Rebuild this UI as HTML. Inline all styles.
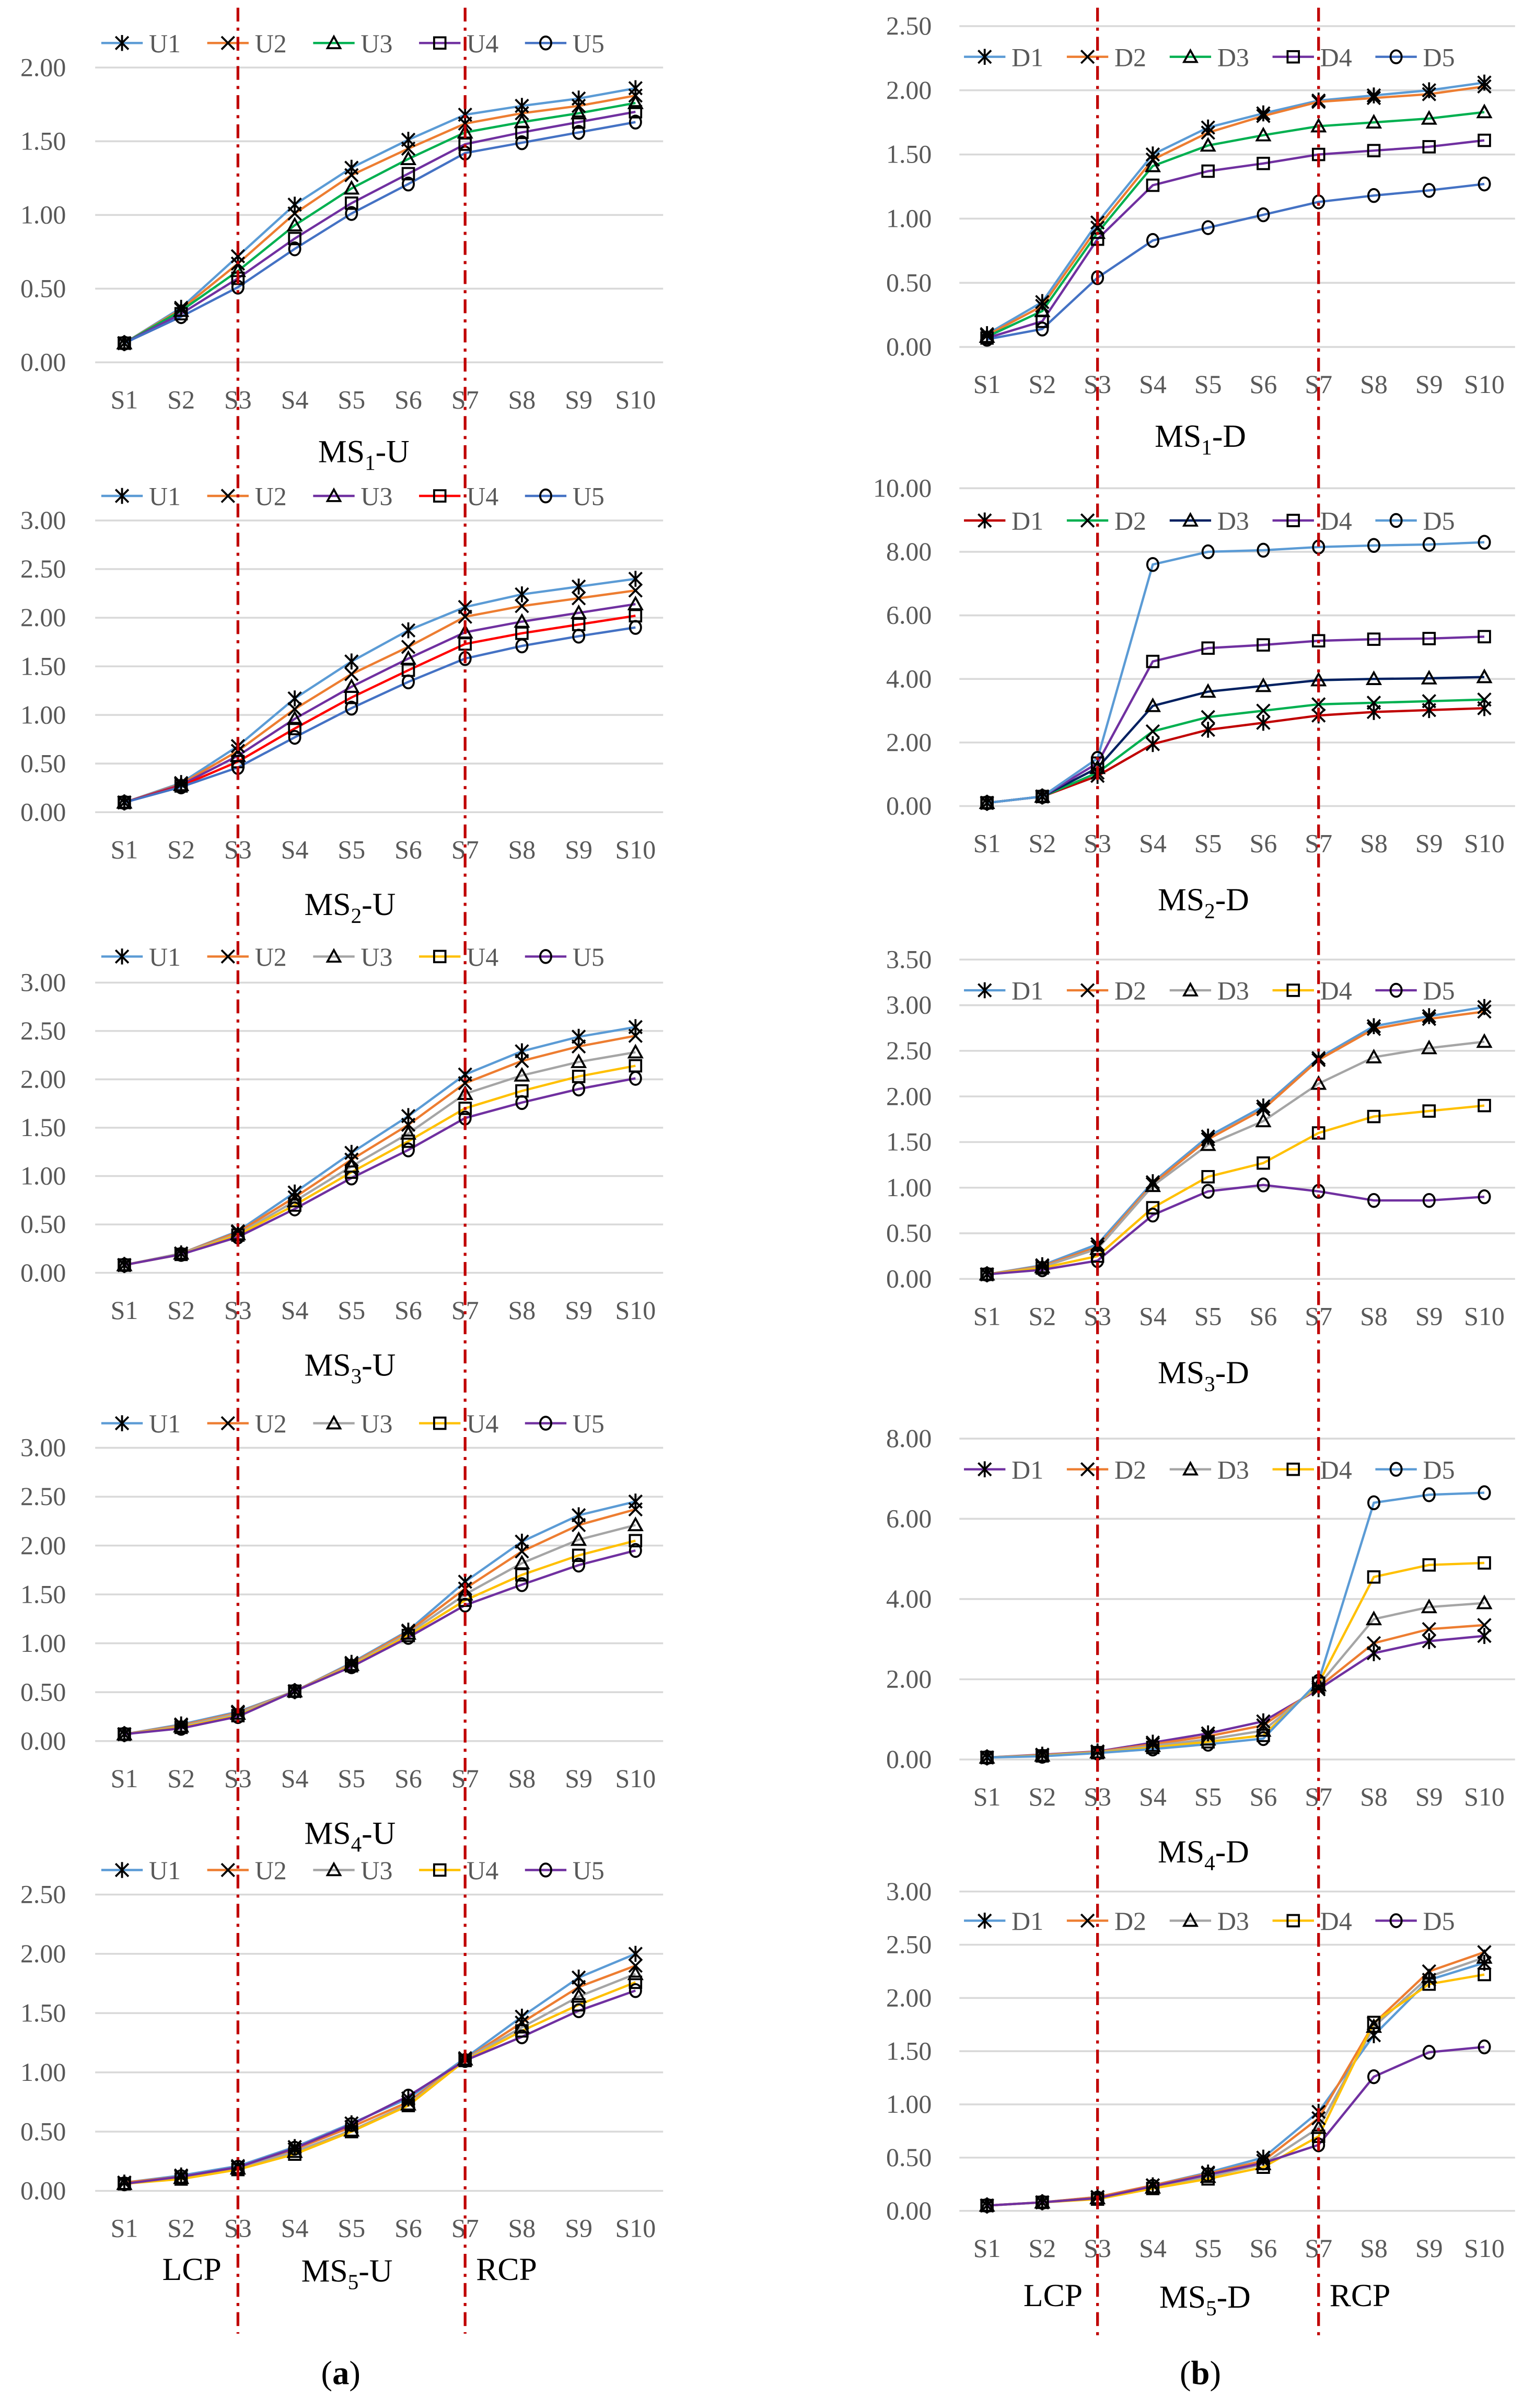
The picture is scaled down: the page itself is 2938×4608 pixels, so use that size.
<!DOCTYPE html>
<html><head><meta charset="utf-8"><style>
html,body{margin:0;padding:0;background:#fff;}
svg{display:block;}
text{font-family:"Liberation Serif",serif;}
</style></head><body>
<svg id="fig" xmlns="http://www.w3.org/2000/svg" width="2938" height="4608" viewBox="0 0 1000 1568.4"></svg>
<script>
const categories=["S1","S2","S3","S4","S5","S6","S7","S8","S9","S10"];
// Left column (a)
const ms1U=[[.13,.37,.72,1.07,1.32,1.51,1.68,1.74,1.79,1.86],[.13,.36,.67,1.01,1.27,1.45,1.62,1.69,1.74,1.81],[.13,.35,.62,.93,1.18,1.38,1.56,1.63,1.69,1.76],[.13,.33,.57,.84,1.08,1.28,1.48,1.56,1.63,1.70],[.13,.31,.51,.77,1.01,1.21,1.42,1.49,1.56,1.63]];
const ms2U=[[.1,.3,.68,1.17,1.55,1.87,2.11,2.24,2.32,2.40],[.1,.29,.63,1.06,1.42,1.70,2.01,2.12,2.20,2.28],[.1,.28,.58,.96,1.29,1.58,1.85,1.96,2.05,2.14],[.1,.27,.52,.86,1.18,1.46,1.73,1.84,1.93,2.02],[.1,.26,.46,.77,1.07,1.34,1.58,1.71,1.81,1.90]];
const ms3U=[[.08,.2,.43,.83,1.24,1.62,2.05,2.29,2.44,2.54],[.08,.2,.42,.78,1.17,1.53,1.96,2.19,2.34,2.45],[.08,.2,.40,.74,1.10,1.44,1.85,2.04,2.18,2.28],[.08,.19,.39,.70,1.04,1.36,1.70,1.88,2.03,2.14],[.08,.19,.37,.66,.98,1.27,1.60,1.76,1.90,2.01]];
const ms4U=[[.07,.17,.30,.51,.80,1.13,1.63,2.04,2.31,2.45],[.07,.16,.29,.51,.79,1.12,1.56,1.94,2.21,2.37],[.07,.15,.28,.51,.78,1.10,1.50,1.82,2.06,2.21],[.07,.14,.26,.51,.77,1.08,1.44,1.70,1.90,2.05],[.07,.13,.25,.51,.76,1.06,1.39,1.60,1.80,1.95]];
const ms5U=[[.07,.13,.21,.37,.57,.78,1.12,1.47,1.80,2.00],[.07,.12,.20,.35,.54,.75,1.11,1.42,1.72,1.90],[.06,.11,.19,.33,.51,.73,1.11,1.38,1.64,1.83],[.06,.10,.18,.31,.50,.72,1.10,1.35,1.57,1.76],[.06,.12,.20,.36,.56,.80,1.10,1.30,1.52,1.69]];
// Right column (b)
const ms1D=[[.1,.35,.97,1.5,1.71,1.82,1.92,1.96,2.0,2.06],[.09,.32,.93,1.46,1.67,1.80,1.91,1.94,1.97,2.03],[.08,.28,.89,1.41,1.57,1.65,1.72,1.75,1.78,1.83],[.07,.2,.84,1.26,1.37,1.43,1.50,1.53,1.56,1.61],[.06,.14,.54,.83,.93,1.03,1.13,1.18,1.22,1.27]];
const ms2D=[[.1,.3,.95,1.95,2.4,2.62,2.85,2.96,3.02,3.08],[.1,.3,1.05,2.35,2.8,3.0,3.2,3.25,3.3,3.35],[.1,.3,1.2,3.15,3.6,3.78,3.96,4.0,4.02,4.06],[.1,.3,1.35,4.55,4.97,5.07,5.2,5.25,5.27,5.33],[.1,.3,1.5,7.6,8.0,8.05,8.15,8.2,8.23,8.3]];
const ms3D=[[.05,.15,.38,1.06,1.56,1.89,2.42,2.77,2.88,2.98],[.05,.14,.35,1.04,1.53,1.86,2.4,2.74,2.85,2.93],[.05,.13,.33,1.02,1.47,1.73,2.14,2.43,2.53,2.60],[.05,.12,.25,.78,1.12,1.27,1.60,1.78,1.84,1.90],[.05,.10,.20,.70,.96,1.03,.96,.86,.86,.90]];
const ms4D=[[.05,.12,.2,.42,.65,.95,1.75,2.65,2.95,3.08],[.05,.11,.19,.38,.58,.85,1.8,2.9,3.25,3.35],[.05,.10,.18,.34,.50,.72,1.85,3.5,3.8,3.9],[.05,.09,.17,.30,.44,.60,1.9,4.55,4.85,4.9],[.05,.08,.16,.26,.38,.52,1.95,6.4,6.6,6.65]];
const ms5D=[[.05,.08,.13,.24,.36,.50,.93,1.65,2.17,2.33],[.05,.08,.13,.24,.35,.47,.87,1.76,2.25,2.43],[.05,.08,.12,.22,.32,.44,.78,1.73,2.2,2.38],[.05,.08,.11,.21,.30,.41,.70,1.77,2.13,2.22],[.05,.08,.12,.23,.34,.45,.62,1.26,1.49,1.54]];
const uNames=["U1","U2","U3","U4","U5"];
const dNames=["D1","D2","D3","D4","D5"];
const tickMax=[2,3,3,3,2.5,2.5,10,3.5,8,3];
const tickStep=[.5,.5,.5,.5,.5,.5,2,.5,2,.5];

const B="#5B9BD5",O="#ED7D31",G="#A5A5A5",Y="#FFC000",P="#7030A0";
const NS="http://www.w3.org/2000/svg";
const svg=document.getElementById('fig');
function el(t,a,p){const e=document.createElementNS(NS,t);for(const k in a)e.setAttribute(k,a[k]);(p||svg).appendChild(e);return e;}

function marker(g,type,x,y){
  const s=4.2,st={fill:"none",stroke:"#000","stroke-width":1.3};
  if(type===0){el('path',Object.assign({d:`M${x-s} ${y-s}L${x+s} ${y+s}M${x-s} ${y+s}L${x+s} ${y-s}M${x} ${y-s-1}L${x} ${y+s+1}`},st),g);}
  else if(type===1){el('path',Object.assign({d:`M${x-s} ${y-s}L${x+s} ${y+s}M${x-s} ${y+s}L${x+s} ${y-s}`},st),g);}
  else if(type===2){el('path',Object.assign({d:`M${x} ${y-s}L${x+s} ${y+s*0.8}L${x-s} ${y+s*0.8}Z`},st),g);}
  else if(type===3){el('rect',Object.assign({x:x-s+0.5,y:y-s+0.5,width:2*s-1,height:2*s-1},st),g);}
  else {el('ellipse',Object.assign({cx:x,cy:y,rx:s-0.6,ry:s},st),g);}
}

const charts=[
 {name:"ms1-u-chart",data:ms1U,names:uNames,colors:[B,O,"#00B050",P,"#4472C4"],x1:81,dx:37,y0:236,yTop:44,legY:28,legX:66,legDx:69,labY:260,side:'L'},
 {name:"ms2-u-chart",data:ms2U,names:uNames,colors:[B,O,P,"#FF0000","#4472C4"],x1:81,dx:37,y0:529,yTop:339,legY:323,legX:66,legDx:69,labY:553,side:'L'},
 {name:"ms3-u-chart",data:ms3U,names:uNames,colors:[B,O,G,Y,P],x1:81,dx:37,y0:829,yTop:640,legY:623,legX:66,legDx:69,labY:853,side:'L'},
 {name:"ms4-u-chart",data:ms4U,names:uNames,colors:[B,O,G,Y,P],x1:81,dx:37,y0:1134,yTop:943,legY:927,legX:66,legDx:69,labY:1158,side:'L'},
 {name:"ms5-u-chart",data:ms5U,names:uNames,colors:[B,O,G,Y,P],x1:81,dx:37,y0:1427,yTop:1234,legY:1218,legX:66,legDx:69,labY:1451,side:'L'},
 {name:"ms1-d-chart",data:ms1D,names:dNames,colors:[B,O,"#00B050",P,"#4472C4"],x1:643,dx:36,y0:226,yTop:17,legY:37,legX:628,legDx:67,labY:250,side:'R'},
 {name:"ms2-d-chart",data:ms2D,names:dNames,colors:["#C00000","#00B050","#002060",P,B],x1:643,dx:36,y0:525,yTop:318,legY:339,legX:628,legDx:67,labY:549,side:'R'},
 {name:"ms3-d-chart",data:ms3D,names:dNames,colors:[B,O,G,Y,P],x1:643,dx:36,y0:833,yTop:625,legY:645,legX:628,legDx:67,labY:857,side:'R'},
 {name:"ms4-d-chart",data:ms4D,names:dNames,colors:[P,O,G,Y,B],x1:643,dx:36,y0:1146,yTop:937,legY:957,legX:628,legDx:67,labY:1170,side:'R'},
 {name:"ms5-d-chart",data:ms5D,names:dNames,colors:[B,O,G,Y,P],x1:643,dx:36,y0:1440,yTop:1232,legY:1251,legX:628,legDx:67,labY:1464,side:'R'}
];

charts.forEach((c,ci)=>{
  const g=el('g',{});
  
  
  const max=tickMax[ci],step=tickStep[ci];
  const yS=v=>c.y0-(v/max)*(c.y0-c.yTop);
  const xS=i=>c.x1+i*c.dx;
  const gl=c.side==='L'?62:625, gr=c.side==='L'?432:987, tx=c.side==='L'?43:607;
  const dec=max>=10?2:2;
  for(let v=0;v<=max+1e-9;v+=step){
    const gline=el('line',{x1:gl,x2:gr,y1:yS(v),y2:yS(v),stroke:"#D9D9D9","stroke-width":1.2},g);
    
    
    const t=el('text',{x:tx,y:yS(v)+5.5,"text-anchor":"end","font-size":17,fill:"#595959"},g);
    t.textContent=v.toFixed(dec);
    
    
  }
  categories.forEach((cat,i)=>{
    const t=el('text',{x:xS(i),y:c.labY+6,"text-anchor":"middle","font-size":17,fill:"#595959"},g);
    t.textContent=cat;
    
    
  });
  c.data.forEach((ser,si)=>{
    const pts=ser.map((v,i)=>xS(i)+","+yS(v)).join(" ");
    const pl=el('polyline',{points:pts,fill:"none",stroke:c.colors[si],"stroke-width":1.5},g);
    
    
  });
  c.data.forEach((ser,si)=>{ser.forEach((v,i)=>marker(g,si,xS(i),yS(v)));});
  c.names.forEach((n,si)=>{
    const lg=el('g',{},g);
    
    
    const lx=c.legX+si*c.legDx;
    el('line',{x1:lx,x2:lx+27,y1:c.legY,y2:c.legY,stroke:c.colors[si],"stroke-width":1.5},lg);
    marker(lg,si,lx+13.5,c.legY);
    const t=el('text',{x:lx+31,y:c.legY+6,"font-size":17,fill:"#595959"},lg);
    t.textContent=n;
  });
});

// Titles
function title(x,y,main,sub,rest,name){
  const t=el('text',{x:x,y:y,"text-anchor":"middle","font-size":21,fill:"#000"});
  
  
  t.appendChild(document.createTextNode(main));
  const ts=el('tspan',{"font-size":14,dy:5},t);ts.textContent=sub;
  const tr=el('tspan',{dy:-5},t);tr.textContent=rest;
}
title(237,301,"MS","1","-U","title-ms1-u");
title(228,596,"MS","2","-U","title-ms2-u");
title(228,896,"MS","3","-U","title-ms3-u");
title(228,1201,"MS","4","-U","title-ms4-u");
title(226,1486,"MS","5","-U","title-ms5-u");
title(782,291,"MS","1","-D","title-ms1-d");
title(784,593,"MS","2","-D","title-ms2-d");
title(784,901,"MS","3","-D","title-ms3-d");
title(784,1213,"MS","4","-D","title-ms4-d");
title(785,1503,"MS","5","-D","title-ms5-d");
function lbl(x,y,s,name,fs){const t=el('text',{x:x,y:y,"text-anchor":"middle","font-size":fs||21,fill:"#000"});t.textContent=s;return t;}
lbl(125,1485,"LCP","lcp-label-a");lbl(330,1485,"RCP","rcp-label-a");
lbl(686,1502,"LCP","lcp-label-b");lbl(886,1502,"RCP","rcp-label-b");
const pa=el('text',{x:222,y:1553,"text-anchor":"middle","font-size":22});pa.innerHTML='(<tspan font-weight="bold">a</tspan>)';

const pb=el('text',{x:782,y:1553,"text-anchor":"middle","font-size":22});pb.innerHTML='(<tspan font-weight="bold">b</tspan>)';


// Red dash-dot divider lines
[[155,5,1520,'lcp-divider-a'],[303,5,1520,'rcp-divider-a'],[715,5,1522,'lcp-divider-b'],[859,5,1522,'rcp-divider-b']].forEach(d=>{
  const l=el('line',{x1:d[0],x2:d[0],y1:d[1],y2:d[2],stroke:"#C00000","stroke-width":1.8,"stroke-dasharray":"9 4 2 4"});
  
  
});
</script>
</body></html>
